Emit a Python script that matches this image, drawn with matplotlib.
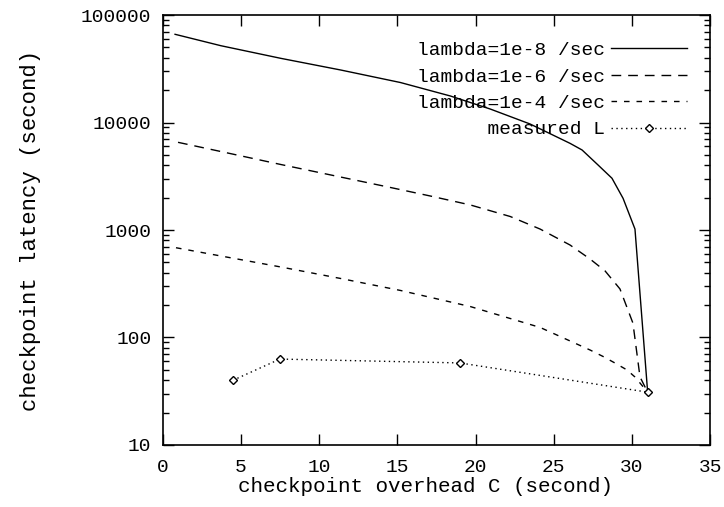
import matplotlib

matplotlib.use("Agg")
import matplotlib.pyplot as plt
from matplotlib.ticker import LogLocator, NullFormatter, FixedLocator


# curves: overhead C (s) vs latency L (s)
c_1e8 = [0.8, 3.73, 7.55, 11.38, 15.2, 18.39, 20.94, 23.49, 26.04, 26.81, 27.83, 28.72, 29.43, 30.19, 31.0]
l_1e8 = [66150, 51800, 39550, 30800, 23550, 17650, 13350, 9680, 6400, 5550, 4025, 3030, 1970, 1020, 31]

c_1e6 = [0.99, 3.73, 7.55, 11.38, 14.57, 17.12, 19.67, 22.22, 24.13, 26.04, 27.32, 28.28, 29.23, 30.06, 30.51, 31.0]
l_1e6 = [6540, 5370, 4070, 3110, 2485, 2070, 1710, 1335, 1020, 725, 537, 416, 283, 136, 43, 31]

c_1e4 = [0.86, 3.73, 7.55, 11.38, 15.2, 19.67, 24.13, 27.32, 28.15, 28.91, 29.68, 30.19, 31.0]
l_1e4 = [684, 573, 453, 354, 274, 194, 124, 76.5, 66.6, 57.9, 49.9, 42.9, 31]

c_meas = [4.5, 7.5, 19.0, 31.0]
l_meas = [40, 63, 58, 31]

labels = ["lambda=1e-8 /sec", "lambda=1e-6 /sec", "lambda=1e-4 /sec", "measured L"]
x_ticks = [0, 5, 10, 15, 20, 25, 30, 35]
y_ticks = [10, 100, 1000, 10000, 100000]

plt.rcParams["font.family"] = ["Liberation Mono", "DejaVu Sans Mono"]
plt.rcParams["font.size"] = 14

fig = plt.figure(figsize=(7.24, 5.07), dpi=100)
ax = fig.add_axes([0.2245, 0.1223, 0.7565, 0.8481])

lw = 1.0
ax.plot(c_1e8, l_1e8, color="black", linewidth=lw, linestyle="-", label=labels[0])
ax.plot(c_1e6, l_1e6, color="black", linewidth=lw, linestyle=(0, (7, 5)), label=labels[1])
ax.plot(c_1e4, l_1e4, color="black", linewidth=lw, linestyle=(0, (4, 5)), label=labels[2])
ax.plot(c_meas, l_meas, color="black", linewidth=lw, linestyle=(0, (1, 2.5)),
        marker="D", markersize=4.5, markerfacecolor="white", markeredgewidth=1.0,
        label=labels[3])

ax.set_yscale("log")
ax.set_xlim(0, 35)
ax.set_ylim(10, 100000)
ax.xaxis.set_major_locator(FixedLocator(x_ticks))
ax.yaxis.set_major_locator(FixedLocator(y_ticks))
ax.set_yticklabels([str(v) for v in y_ticks])
ax.yaxis.set_minor_locator(LogLocator(base=10, subs=range(2, 10)))
ax.yaxis.set_minor_formatter(NullFormatter())

ax.tick_params(which="both", direction="in", top=True, right=True, width=1.0)
ax.tick_params(which="major", length=8)
ax.tick_params(which="minor", length=4)
ax.tick_params(axis="y", which="major", pad=8)
ax.tick_params(axis="x", which="major", pad=10)
for sp in ax.spines.values():
    sp.set_linewidth(1.2)

ax.set_xlabel("checkpoint overhead C (second)", fontsize=15, labelpad=2)
ax.xaxis.set_label_coords(0.481, -0.075)
ax.set_ylabel("checkpoint latency (second)", fontsize=16, labelpad=29)

# right-align legend text by padding (monospace font)
width = max(len(s) for s in labels)
handles, labs = ax.get_legend_handles_labels()
labs = [s.rjust(width) for s in labs]
ax.legend(handles, labs, loc="upper right", bbox_to_anchor=(0.958, 0.938),
          frameon=False, markerfirst=False, handlelength=3.9, handletextpad=0.35,
          labelspacing=0.45, borderpad=0, borderaxespad=0, fontsize=14)

fig.savefig("out.png", dpi=100)
